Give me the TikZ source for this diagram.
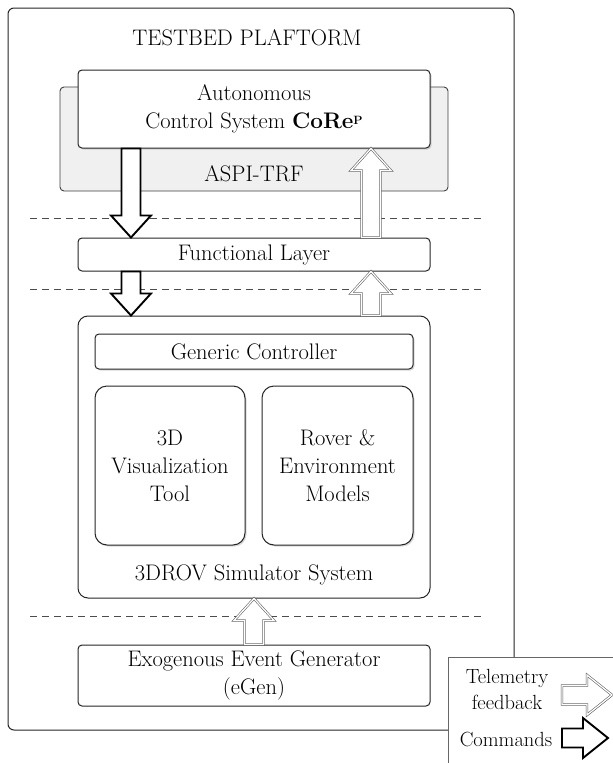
\documentclass[tikz,border=0pt]{standalone}
\usetikzlibrary{calc,shadows}
\newcommand\blkdown[4]{% style, x, from, to
  \draw[#1] let \p1=(#3), \p2=(#4) in
  (#2-9.5pt,\y1) -- (#2+9.5pt,\y1) -- (#2+9.5pt,\y2+22pt) -- (#2+20pt,\y2+22pt) -- (#2,\y2)
  -- (#2-20pt,\y2+22pt) -- (#2-9.5pt,\y2+22pt) -- cycle;}
\newcommand\blkup[4]{% style, x, from(lower), to(upper)
  \draw[#1] let \p1=(#3), \p2=(#4) in
  (#2-9.5pt,\y1) -- (#2+9.5pt,\y1) -- (#2+9.5pt,\y2-22pt) -- (#2+20pt,\y2-22pt) -- (#2,\y2)
  -- (#2-20pt,\y2-22pt) -- (#2-9.5pt,\y2-22pt) -- cycle;}
\newcommand\blkright[3]{% style, from, to
  \draw[#1] let \p1=(#2), \p2=(#3) in
  (\x1,\y1-9.5pt) -- (\x1,\y1+9.5pt) -- (\x2-25pt,\y1+9.5pt) -- (\x2-25pt,\y1+20pt) -- (\x2,\y1)
  -- (\x2-25pt,\y1-20pt) -- (\x2-25pt,\y1-9.5pt) -- cycle;}
\begin{document}
\begin{tikzpicture}[x=1pt,y=-1pt,
  txt/.style={font=\fontsize{22.5}{28}\selectfont, align=center, inner sep=0pt},
  ltxt/.style={font=\fontsize{20.5}{26}\selectfont, align=center, inner sep=0pt},
  box/.style={draw=black!85, line width=1pt, rounded corners=4pt, fill=white, txt},
  sbox/.style={box, drop shadow={opacity=0.3, shadow xshift=1.5pt, shadow yshift=-1.5pt}},
  cmd/.style={draw=black, line width=1.9pt, fill=white, line join=miter},
  tel/.style={draw=black!65, double=white, double distance=1.3pt, line width=0.55pt, fill=white, line join=miter},
  sep/.style={draw=black!70, line width=0.8pt, dash pattern=on 7pt off 5pt}]
\clip (0,0) rectangle (613,763);
\fill[white] (0,0) rectangle (613,763);
% outer platform box
\node[draw=black!85, line width=1pt, rounded corners=6pt, minimum width=506pt, minimum height=722pt, inner sep=0pt] (tb) at (261,369) {};
\node[txt] (title) at (247,38) {TESTBED PLAFTORM};
% ASPI-TRF
\node[draw=black!75, line width=0.9pt, rounded corners=4pt, fill=black!6, minimum width=388pt, minimum height=104pt, inner sep=0pt] (aspi) at (254,139) {};
\node[txt] (aspil) at (254,174) {ASPI-TRF};
% dashed separators
\coordinate (s1a) at (30,218); \coordinate (s1b) at (485,218);
\coordinate (s2a) at (30,289); \coordinate (s2b) at (485,289);
\coordinate (s3a) at (30,616); \coordinate (s3b) at (485,616);
\draw[sep] (s1a) -- (s1b);
\draw[sep] (s2a) -- (s2b);
\draw[sep] (s3a) -- (s3b);
% boxes
\node[sbox, minimum width=352pt, minimum height=78pt] (core) at (254,109)
  {Autonomous\\Control System \textbf{CoRe}\raisebox{0.45ex}{\fontsize{12}{12}\selectfont\bfseries P}};
\node[box, minimum width=352pt, minimum height=33pt] (fl) at (254,254.5) {Functional Layer};
\node[box, rounded corners=10pt, minimum width=352pt, minimum height=282pt] (sim) at (254,457) {};
\node[txt] (siml) at (254,575) {3DROV Simulator System};
\node[sbox, minimum width=318pt, minimum height=35pt] (gc) at (254,351.5) {Generic Controller};
\node[sbox, rounded corners=12pt, minimum width=150pt, minimum height=159pt] (vis) at (170,465.5) {3D\\Visualization\\Tool};
\node[sbox, rounded corners=12pt, minimum width=151pt, minimum height=159pt] (rov) at (337.5,465.5) {Rover \&\\Environment\\Models};
\node[box, minimum width=352pt, minimum height=61pt] (egen) at (254,675.5) {Exogenous Event Generator\\(eGen)};
% arrows
\blkdown{cmd}{131pt}{core.south}{fl.north}
\blkup{tel}{371pt}{fl.north}{core.south}
\blkdown{cmd}{131pt}{fl.south}{sim.north}
\blkup{tel}{371pt}{sim.north}{fl.south}
\blkup{tel}{254pt}{egen.north}{sim.south}
% legend
\node[draw=black!60, line width=0.7pt, fill=white, minimum width=200pt, minimum height=150pt, inner sep=0pt] (leg) at (548,732) {};
\node[ltxt] (legt) at (507,689) {Telemetry\\feedback};
\node[ltxt] (legc) at (506,739) {Commands};
\coordinate (ta) at (562,695); \coordinate (tb2) at (612,695);
\coordinate (ca) at (562,738); \coordinate (cb) at (608,738);
\blkright{tel}{ta}{tb2}
\blkright{cmd}{ca}{cb}
\end{tikzpicture}
\end{document}
